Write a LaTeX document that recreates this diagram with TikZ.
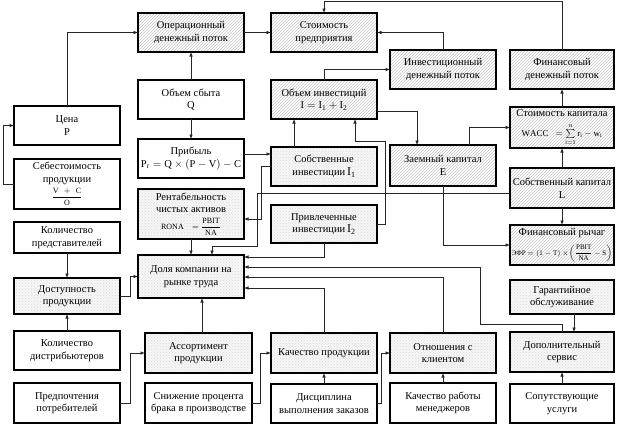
\documentclass[tikz,border=0pt]{standalone}
\usepackage{fontspec}
\setmainfont{Liberation Serif}
\usepackage{amsmath}
\usetikzlibrary{arrows.meta,patterns}
\newcommand\fs{\fontsize{10.5}{12.5}\selectfont}
\newcommand\mkbox[7]{\node[#1, minimum width={(#4)-(#2)}, minimum height={(#5)-(#3)}] (#6) at ({((#2)+(#4))/2},{((#3)+(#5))/2}) {#7};}
\tikzset{
  bx/.style={draw=black, line width=1.1pt, inner sep=0pt, outer sep=0pt, align=center, font=\fs},
  hat/.style={bx, pattern=north east lines, pattern color=gray!45},
  dotb/.style={bx, preaction={fill=gray!7}, pattern=crosshatch dots, pattern color=gray!30},
  arr/.style={line width=0.7pt, draw=black!85, -{Latex[length=4.5pt,width=3.6pt]}},
}
\begin{document}
\begin{tikzpicture}[x=1pt,y=-1pt]
\useasboundingbox (0,0) rectangle (617,426);
% left column
\mkbox{bx}{14}{106}{120}{145}{cena}{Цена\\P}
\mkbox{bx}{14}{159}{120}{209}{seb}{Себестоимость\\продукции\\[3pt]{\footnotesize$\dfrac{\mathrm{V\ \,+\ \,C}}{\mathrm{O}}$}}
\mkbox{bx}{14}{222}{120}{253}{kp}{Количество\\представителей}
\mkbox{dotb}{14}{278}{120}{314}{dost}{Доступность\\продукции}
\mkbox{bx}{14}{331}{120}{370}{kd}{Количество\\дистрибьютеров}
\mkbox{bx}{14}{383}{120}{423}{pred}{Предпочтения\\потребителей}
% second column
\mkbox{hat}{138}{13}{244}{52}{oper}{Операционный\\денежный поток}
\mkbox{bx}{138}{80}{244}{119}{obs}{Объем сбыта\\Q}
\mkbox{bx}{138}{139}{244}{178}{prib}{Прибыль\\$\mathrm{P_r = Q\times(P-V)-C}$}
\mkbox{dotb}{138}{189}{244}{239}{rent}{Рентабельность\\чистых активов\\[4pt]{\footnotesize$\mathrm{RONA}\ \ \ =\dfrac{\mathrm{PBIT}}{\mathrm{NA}}$}}
\mkbox{dotb}{138}{255}{244}{298}{dolya}{Доля компании на\\рынке труда}
\mkbox{dotb}{145}{333}{252}{373}{ass}{Ассортимент\\продукции}
\mkbox{bx}{145}{383}{252}{423}{sniz}{Снижение процента\\брака в производстве}
% third column
\mkbox{hat}{271}{13}{377}{52}{stoim}{Стоимость\\предприятия}
\mkbox{hat}{271}{80}{377}{119}{oi}{Объем инвестиций\\$\mathrm{I = I_1 + I_2}$}
\mkbox{dotb}{271}{147}{377}{186}{sobi}{Собственные\\инвестиции\,{\large$\mathrm{I_1}$}}
\mkbox{dotb}{271}{205}{377}{243}{pi}{Привлеченные\\инвестиции\,{\large$\mathrm{I_2}$}}
\mkbox{dotb}{271}{333}{377}{373}{kach}{Качество продукции}
\mkbox{bx}{271}{384}{377}{423}{disc}{Дисциплина\\выполнения заказов}
% fourth column
\mkbox{hat}{390}{50}{496}{89}{inv}{Инвестиционный\\денежный поток}
\mkbox{hat}{390}{145}{496}{186}{zk}{Заемный капитал\\E}
\mkbox{dotb}{390}{333}{496}{373}{otn}{Отношения с\\клиентом}
\mkbox{bx}{390}{383}{496}{423}{kr}{Качество работы\\менеджеров}
% fifth column
\mkbox{hat}{510}{50}{614}{89}{fin}{Финансовый\\денежный поток}
\mkbox{hat}{510}{107}{614}{148}{wacc}{Стоимость капитала\\[7pt]{\small$\mathrm{WACC}\ \ =\sum\limits_{\mathrm{i=1}}^{\mathrm{n}}\mathrm{r_i}-\mathrm{w_i}$}}
\mkbox{hat}{510}{168}{614}{208}{sk}{Собственный капитал\\L}
\mkbox{hat}{510}{225}{614}{265}{efr}{Финансовый рычаг\\[7pt]{\scriptsize ЭФР $=(1-\mathrm{T})\times\!\left(\dfrac{\mathrm{PBIT}}{\mathrm{NA}}-\mathrm{S}\right)$}}
\mkbox{dotb}{510}{280}{614}{314}{gar}{Гарантийное\\обслуживание}
\mkbox{dotb}{510}{332}{614}{372}{dop}{Дополнительный\\сервис}
\mkbox{bx}{510}{384}{614}{423}{sop}{Сопутствующие\\услуги}
\coordinate (top) at (0,1);
% connectors
\draw[arr] (seb.west) -- ++(-11,0) |- (cena.west);
\draw[arr] (cena.north) |- (oper.west);
\draw[arr] (oper.east) -- (stoim.west);
\draw[arr] (obs.north) -- (oper.south);
\draw[arr] (obs.south) -- (prib.north);
\draw[arr] ([yshift=4.5pt]prib.east) -- ([yshift=4.5pt]prib.east -| sobi.west);
\draw[arr] ([xshift=-30pt]sobi.north) -- ([xshift=-30pt]oi.south);
\draw[arr] (oi.north) |- (inv.west);
\draw[arr] (inv.north) |- (stoim.east);
\draw[arr] (fin.north) -- (fin.north |- top) -| (stoim.north);
\draw[arr] (wacc.north) -- (fin.south);
\draw[arr] (sk.north) -- (wacc.south);
\draw[arr] (sk.south) -- (efr.north);
\draw[arr] ([xshift=26pt]zk.north) |- (wacc.west);
\draw[arr] (zk.south) |- (efr.west);
\draw[arr] ([yshift=-11.5pt]oi.east) -| ([xshift=-26pt]zk.north);
\draw[arr] (pi.east) -- ++(8,0) -- ++(0,-83) -| ([xshift=31pt]oi.south);
\draw[arr] (sobi.west) -- ++(-10,0) |- ([yshift=-5pt]rent.east);
\draw[arr] ([yshift=-5pt]sk.west) -- ++(-253,0) -- ++(0,53) -- ++(-45,0) -- ([xshift=21pt]dolya.north);
\draw[arr] (rent.south) -- (dolya.north);
\draw[arr] (pi.south) |- ([yshift=19.5pt]dolya.east);
\draw[arr] (dop.north) -- ++(0,-8) -- ++(-82,0) |- ([yshift=9.5pt]dolya.east);
\draw[arr] ([xshift=12pt]gar.south) -- ([xshift=12pt]dop.north);
\draw[arr] (otn.north) |- ([yshift=-0.5pt]dolya.east);
\draw[arr] (kach.north) |- ([yshift=-11.5pt]dolya.east);
\draw[arr] ([xshift=3.5pt]ass.north) -- ([xshift=3.5pt]ass.north |- dolya.south);
\draw[arr] (dost.east) -- ++(10,0) |- (dolya.west);
\draw[arr] (kp.south) -- (dost.north);
\draw[arr] (kd.north) -- (dost.south);
\draw[arr] (pred.east) -- ++(10,0) |- (ass.west);
\draw[arr] (sniz.east) -- ++(8,0) |- (kach.west);
\draw[arr] (disc.north) -- (kach.south);
\draw[arr] (disc.east) -- ++(4,0) |- (otn.west);
\draw[arr] (kr.north) -- (otn.south);
\draw[arr] (sop.north) -- (dop.south);
\end{tikzpicture}
\end{document}
